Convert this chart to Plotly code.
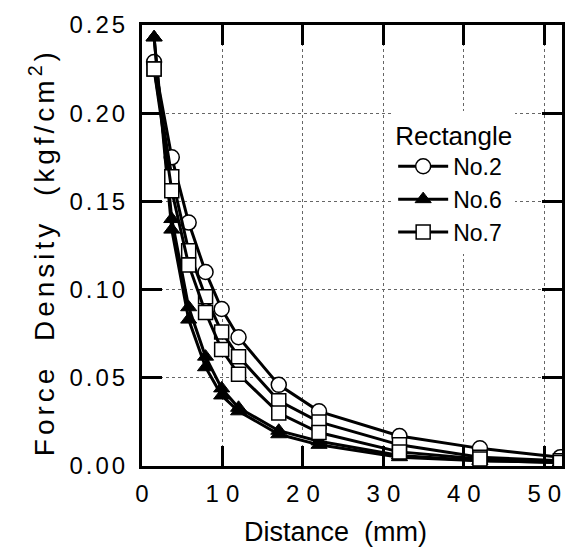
import plotly.graph_objects as go

# ---- data ----
distance = [1.5, 3.7, 5.8, 7.9, 9.9, 12, 17, 22, 32, 42, 52]
no2 = [0.229, 0.175, 0.138, 0.110, 0.089, 0.073, 0.046, 0.031, 0.017, 0.010, 0.005]
no7_a = [0.225, 0.164, 0.122, 0.096, 0.076, 0.062, 0.037, 0.025, 0.012, 0.005, 0.003]
no7_b = [0.225, 0.156, 0.114, 0.087, 0.066, 0.052, 0.030, 0.019, 0.008, 0.004, 0.002]
no6_a = [0.243, 0.140, 0.090, 0.062, 0.044, 0.033, 0.020, 0.014, 0.006, 0.003, 0.002]
no6_b = [0.243, 0.134, 0.083, 0.056, 0.040, 0.031, 0.018, 0.012, 0.005, 0.003, 0.002]

x_ticks = [0, 10, 20, 30, 40, 50]
y_ticks = [0.0, 0.05, 0.10, 0.15, 0.20, 0.25]
x_ticklabels = ["0", "10", "20", "30", "40", "50"]
y_ticklabels = ["0.00", "0.05", "0.10", "0.15", "0.20", "0.25"]

FONT = "Liberation Sans, Arial, Helvetica, sans-serif"


def spaced(s, px):
    # letter spacing between characters (not after the last one)
    if len(s) < 2:
        return s
    return "<span style='letter-spacing:%dpx'>%s</span>%s" % (px, s[:-1], s[-1])


fig = go.Figure()

line = dict(color="black", width=3)

fig.add_trace(go.Scatter(
    x=distance, y=no2, mode="lines+markers", name="No.2", legendrank=1,
    line=line,
    marker=dict(symbol="circle", size=15, color="white", line=dict(color="black", width=1.5)),
))
fig.add_trace(go.Scatter(
    x=distance, y=no6_a, mode="lines+markers", name="No.6", legendrank=2,
    line=line,
    marker=dict(symbol="triangle-up", size=14, color="black", line=dict(color="black", width=1)),
))
fig.add_trace(go.Scatter(
    x=distance, y=no6_b, mode="lines+markers", name="No.6b", showlegend=False,
    line=line,
    marker=dict(symbol="triangle-up", size=14, color="black", line=dict(color="black", width=1)),
))
fig.add_trace(go.Scatter(
    x=distance, y=no7_a, mode="lines+markers", name="No.7", legendrank=3,
    line=line,
    marker=dict(symbol="square", size=14, color="white", line=dict(color="black", width=1.5)),
))
fig.add_trace(go.Scatter(
    x=distance, y=no7_b, mode="lines+markers", name="No.7b", showlegend=False,
    line=line,
    marker=dict(symbol="square", size=14, color="white", line=dict(color="black", width=1.5)),
))

axis_common = dict(
    showline=True, linecolor="black", linewidth=3, mirror="ticks",
    ticks="inside", ticklen=20, tickwidth=3, tickcolor="black",
    showgrid=True, gridcolor="#666666", gridwidth=1, griddash="dot",
    zeroline=False,
    tickfont=dict(family=FONT, size=24, color="black"),
)

fig.update_xaxes(
    range=[0, 52.2], tickmode="array", tickvals=x_ticks,
    ticktext=[spaced(t, 7) for t in x_ticklabels],
    ticklabelstandoff=4,
    **axis_common,
)
fig.update_yaxes(
    range=[0, 0.25], tickmode="array", tickvals=y_ticks,
    ticktext=[spaced(t, 3) for t in y_ticklabels],
    ticklabelstandoff=9,
    **axis_common,
)

fig.add_annotation(
    xref="paper", yref="paper", x=0.461, y=-0.149,
    text="Distance\u00a0\u00a0(mm)", showarrow=False,
    xanchor="center", yanchor="middle",
    font=dict(family=FONT, size=27, color="black"),
)
fig.add_annotation(
    xref="paper", yref="paper", x=-0.238, y=0.485,
    text="<span style='letter-spacing:4px'>Force\u00a0\u00a0Density\u00a0\u00a0(kgf/cm<sup>2</sup>)</span>",
    showarrow=False, textangle=-90,
    xanchor="center", yanchor="middle",
    font=dict(family=FONT, size=28, color="black"),
)

fig.update_layout(
    width=576, height=551,
    margin=dict(l=142, r=11, t=17, b=85),
    paper_bgcolor="white", plot_bgcolor="white",
    showlegend=True,
    legend=dict(
        x=0.598, y=0.805, xanchor="left", yanchor="top",
        bgcolor="white", borderwidth=0,
        itemwidth=50,
        title=dict(text="Rectangle", font=dict(family=FONT, size=26, color="black")),
        font=dict(family=FONT, size=23, color="black"),
        tracegroupgap=0,
    ),
)

fig.write_html("out.html")
